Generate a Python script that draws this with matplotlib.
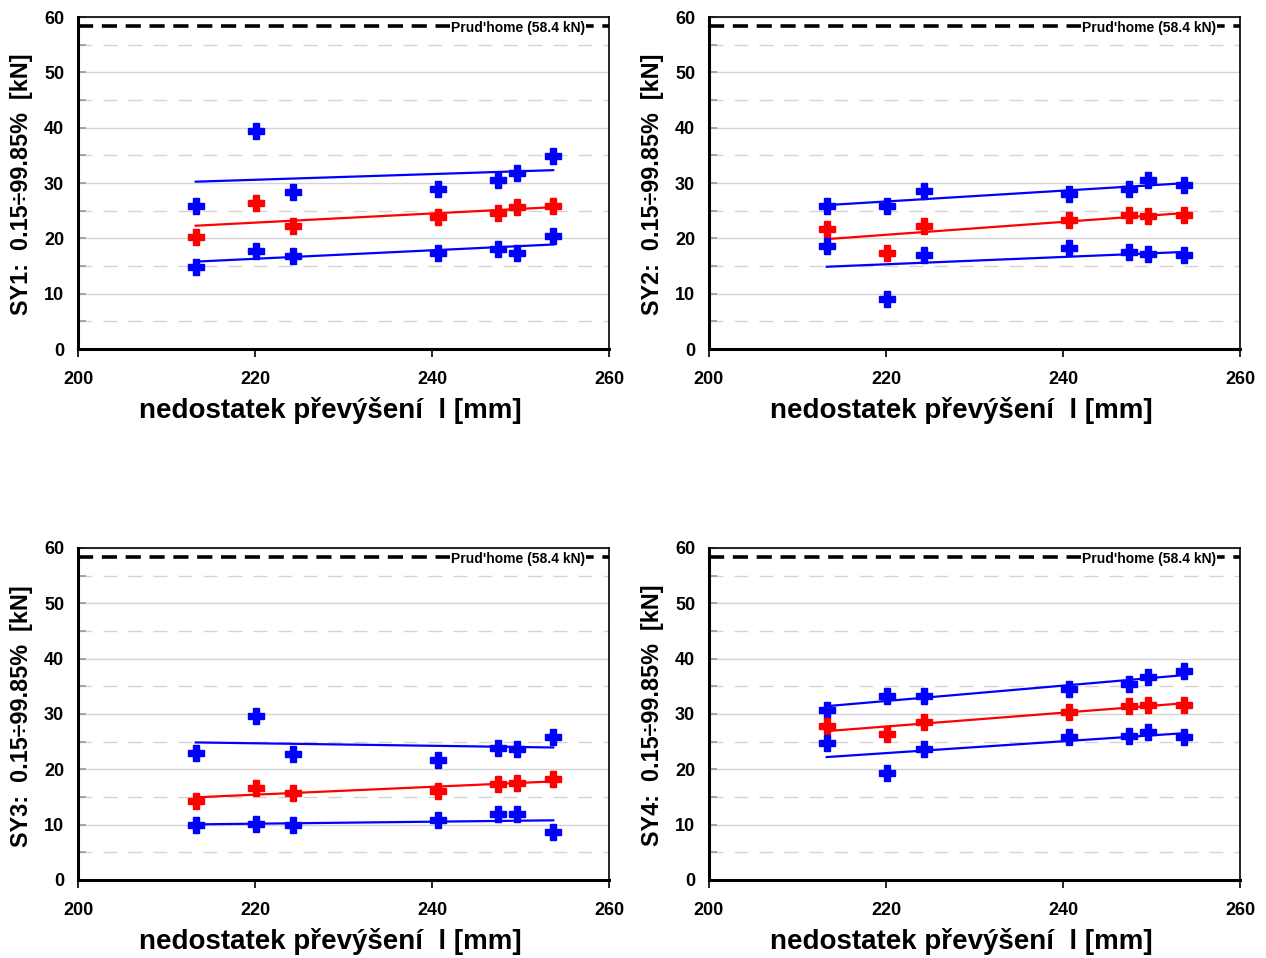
import numpy as np
import matplotlib
matplotlib.use("Agg")
import matplotlib.pyplot as plt
from matplotlib.ticker import MultipleLocator

plt.rcParams['font.family'] = ['Liberation Sans', 'DejaVu Sans']

x = [213.3, 220.1, 224.3, 240.7, 247.5, 249.6, 253.7]

panels = ["SY1", "SY2", "SY3", "SY4"]

upper = {
    "SY1": [25.8, 39.4, 28.4, 28.9, 30.5, 31.8, 34.9],
    "SY2": [25.8, 25.8, 28.6, 28.0, 29.0, 30.5, 29.6],
    "SY3": [23.0, 29.7, 22.7, 21.7, 23.8, 23.7, 25.9],
    "SY4": [30.7, 33.3, 33.3, 34.5, 35.5, 36.6, 37.7],
}
mean = {
    "SY1": [20.3, 26.3, 22.3, 23.9, 24.6, 25.7, 25.8],
    "SY2": [21.7, 17.3, 22.2, 23.4, 24.3, 24.0, 24.3],
    "SY3": [14.2, 16.7, 15.7, 16.0, 17.3, 17.5, 18.3],
    "SY4": [27.8, 26.3, 28.6, 30.4, 31.4, 31.6, 31.7],
}
lower = {
    "SY1": [14.8, 17.8, 16.8, 17.3, 18.1, 17.3, 20.4],
    "SY2": [18.6, 9.0, 16.9, 18.3, 17.5, 17.2, 16.9],
    "SY3": [9.9, 10.2, 9.9, 10.8, 11.9, 11.9, 8.6],
    "SY4": [24.7, 19.3, 23.7, 25.9, 26.0, 26.7, 25.9],
}

prudhome = 58.4
xlabel = "nedostatek převýšení  l [mm]"
ylabel_tpl = "{}:  0.15÷99.85%  [kN]"
prud_label = "Prud'home (58.4 kN)"

W, H = 1266, 958
fig = plt.figure(figsize=(W / 100, H / 100), dpi=100)

lefts = [78, 709]
tops = [17, 548]
aw, ah = 531, 332

for i, name in enumerate(panels):
    r, c = divmod(i, 2)
    l = lefts[c]
    t = tops[r]
    ax = fig.add_axes([l / W, 1 - (t + ah) / H, aw / W, ah / H])
    ax.set_xlim(200, 260)
    ax.set_ylim(0, 60)
    ax.xaxis.set_major_locator(MultipleLocator(20))
    ax.yaxis.set_major_locator(MultipleLocator(10))
    ax.yaxis.set_minor_locator(MultipleLocator(5))
    ax.grid(which='major', axis='y', color='#d4d4d4', lw=1.0, ls='-', zorder=0)
    ax.grid(which='minor', axis='y', color='#d4d4d4', lw=1.0, ls=(0, (10, 8)), zorder=0)
    ax.set_axisbelow(True)

    for sp in ['left', 'bottom']:
        ax.spines[sp].set_linewidth(2.2)
    for sp in ['top', 'right']:
        ax.spines[sp].set_linewidth(1.2)

    ax.tick_params(axis='y', which='both', direction='in', length=6, width=1.2,
                   color='#999999', labelsize=13, pad=10)
    ax.tick_params(axis='x', which='major', direction='out', length=6, width=1.2,
                   labelsize=13, pad=10)
    for lab in ax.get_xticklabels() + ax.get_yticklabels():
        lab.set_fontweight('bold')

    ax.axhline(prudhome, color='black', lw=2.6, ls=(0, (4.2, 2.4)), zorder=2)
    ax.text(257.3, prudhome - 0.35, prud_label, ha='right', va='center', fontsize=10,
            fontweight='bold', zorder=3,
            bbox=dict(facecolor='white', edgecolor='none', pad=1.0))

    xa = np.array(x)
    for series, col in [(upper[name], 'blue'), (mean[name], 'red'), (lower[name], 'blue')]:
        ya = np.array(series)
        k, b = np.polyfit(xa, ya, 1)
        xs = np.array([xa.min(), xa.max()])
        ax.plot(xs, k * xs + b, color=col, lw=1.6, zorder=4)
        ax.plot(xa, ya, ls='none', marker='P', ms=11.5, color=col, mec=col, zorder=5)

    ax.set_xlabel(xlabel, fontsize=20, fontweight='bold')
    ax.xaxis.set_label_coords(0.475, -0.145)
    ax.set_ylabel(ylabel_tpl.format(name), fontsize=16.8, fontweight='bold')
    ax.yaxis.set_label_coords(-0.085, 0.495)

fig.savefig("out.png", dpi=100)
